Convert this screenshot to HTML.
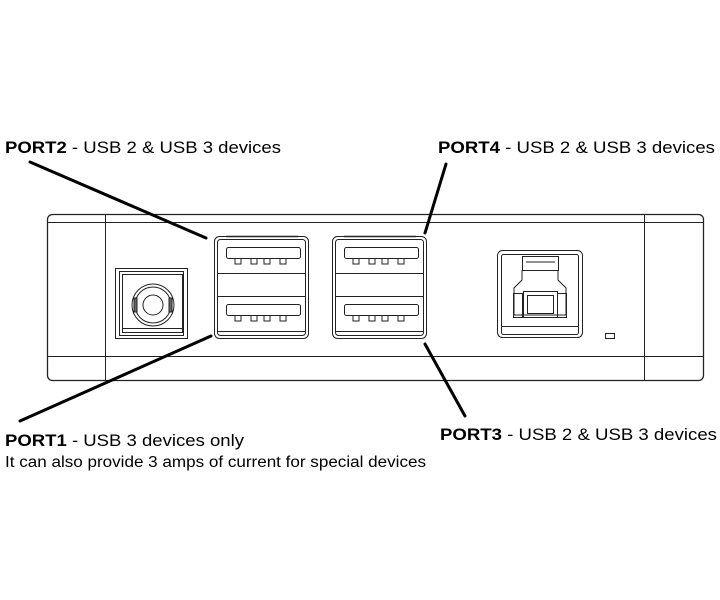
<!DOCTYPE html>
<html><head><meta charset="utf-8"><style>
html,body{margin:0;padding:0;background:#fff;width:720px;height:600px;overflow:hidden}
svg{display:block}
text{font-family:"Liberation Sans",Arial,sans-serif;fill:#000}
</style></head><body>
<svg width="720" height="600" viewBox="0 0 720 600" xmlns="http://www.w3.org/2000/svg">
<g fill="none" stroke="#222" stroke-width="1">
 <!-- main box -->
 <rect x="47.5" y="214.5" width="656" height="166" rx="5" stroke-width="1.3"/>
 <line x1="48" y1="222.5" x2="703" y2="222.5"/>
 <line x1="48" y1="356.5" x2="703" y2="356.5"/>
 <line x1="105.5" y1="215" x2="105.5" y2="380"/>
 <line x1="644.5" y1="215" x2="644.5" y2="380"/>

 <!-- power jack -->
 <rect x="115.5" y="268.5" width="72" height="70"/>
 <rect x="119.5" y="271.5" width="64" height="64"/>
 <rect x="122.5" y="274.5" width="60" height="58"/>
 <line x1="122" y1="328.5" x2="183" y2="328.5"/>
 <circle cx="153" cy="305" r="21"/>
 <circle cx="153" cy="305" r="18"/>
 <circle cx="153" cy="305" r="10"/>
 <rect x="134" y="298" width="3" height="14" fill="#666"/>
 <rect x="169" y="298" width="3" height="14" fill="#666"/>

 <!-- USB blocks -->
 <g id="usb">
  <rect x="214.5" y="236.5" width="94" height="102" rx="5"/>
  <rect x="217.5" y="239.5" width="88" height="96" rx="3"/>
  <line x1="226" y1="236.5" x2="298" y2="236.5" stroke-width="1.5"/>
  <rect x="226.5" y="247.5" width="74" height="11" rx="2"/>
  <path d="M235 259v5h6v-5M251 259v5h6v-5M264 259v5h6v-5M280 259v5h6v-5"/>
  <line x1="218" y1="273.5" x2="305" y2="273.5"/>
  <line x1="218" y1="296.5" x2="305" y2="296.5"/>
  <rect x="226.5" y="304.5" width="74" height="11" rx="2"/>
  <path d="M235 316v5h6v-5M251 316v5h6v-5M264 316v5h6v-5M280 316v5h6v-5"/>
  <line x1="218" y1="331.5" x2="305" y2="331.5"/>
 </g>
 <use href="#usb" transform="translate(118,0)"/>

 <!-- USB-B -->
 <rect x="497.5" y="250.5" width="85" height="87" rx="5"/>
 <rect x="501.5" y="254.5" width="77" height="80" rx="2"/>
 <rect x="522.5" y="256.5" width="36" height="14"/>
 <path d="M526 262h29"/>
 <path d="M522 270v10l-8 8v27h52v-27l-8-8v-10"/>
 <rect x="513.5" y="293.5" width="9" height="24"/>
 <rect x="557.5" y="293.5" width="9" height="24"/>
 <rect x="523.5" y="291.5" width="34" height="26"/>
 <rect x="527.5" y="295.5" width="26" height="18"/>
 <line x1="501" y1="326.5" x2="579" y2="326.5"/>
 <rect x="605.5" y="333.5" width="9" height="5"/>
</g>

<!-- leader lines -->
<g stroke="#000" stroke-width="3" stroke-linecap="round">
 <line x1="30" y1="162" x2="206" y2="238"/>
 <line x1="446" y1="164" x2="425" y2="233"/>
 <line x1="20" y1="421" x2="211" y2="336"/>
 <line x1="425" y1="344" x2="465" y2="416"/>
</g>

<text x="5" y="153" font-size="17" textLength="276" lengthAdjust="spacingAndGlyphs"><tspan font-weight="bold">PORT2</tspan> - USB 2 &amp; USB 3 devices</text>
<text x="438" y="153" font-size="17" textLength="277" lengthAdjust="spacingAndGlyphs"><tspan font-weight="bold">PORT4</tspan> - USB 2 &amp; USB 3 devices</text>
<text x="5" y="446" font-size="17" textLength="239" lengthAdjust="spacingAndGlyphs"><tspan font-weight="bold">PORT1</tspan> - USB 3 devices only</text>
<text x="5" y="467" font-size="15.5" textLength="421" lengthAdjust="spacingAndGlyphs">It can also provide 3 amps of current for special devices</text>
<text x="440" y="440" font-size="17" textLength="277" lengthAdjust="spacingAndGlyphs"><tspan font-weight="bold">PORT3</tspan> - USB 2 &amp; USB 3 devices</text>
</svg>
</body></html>
